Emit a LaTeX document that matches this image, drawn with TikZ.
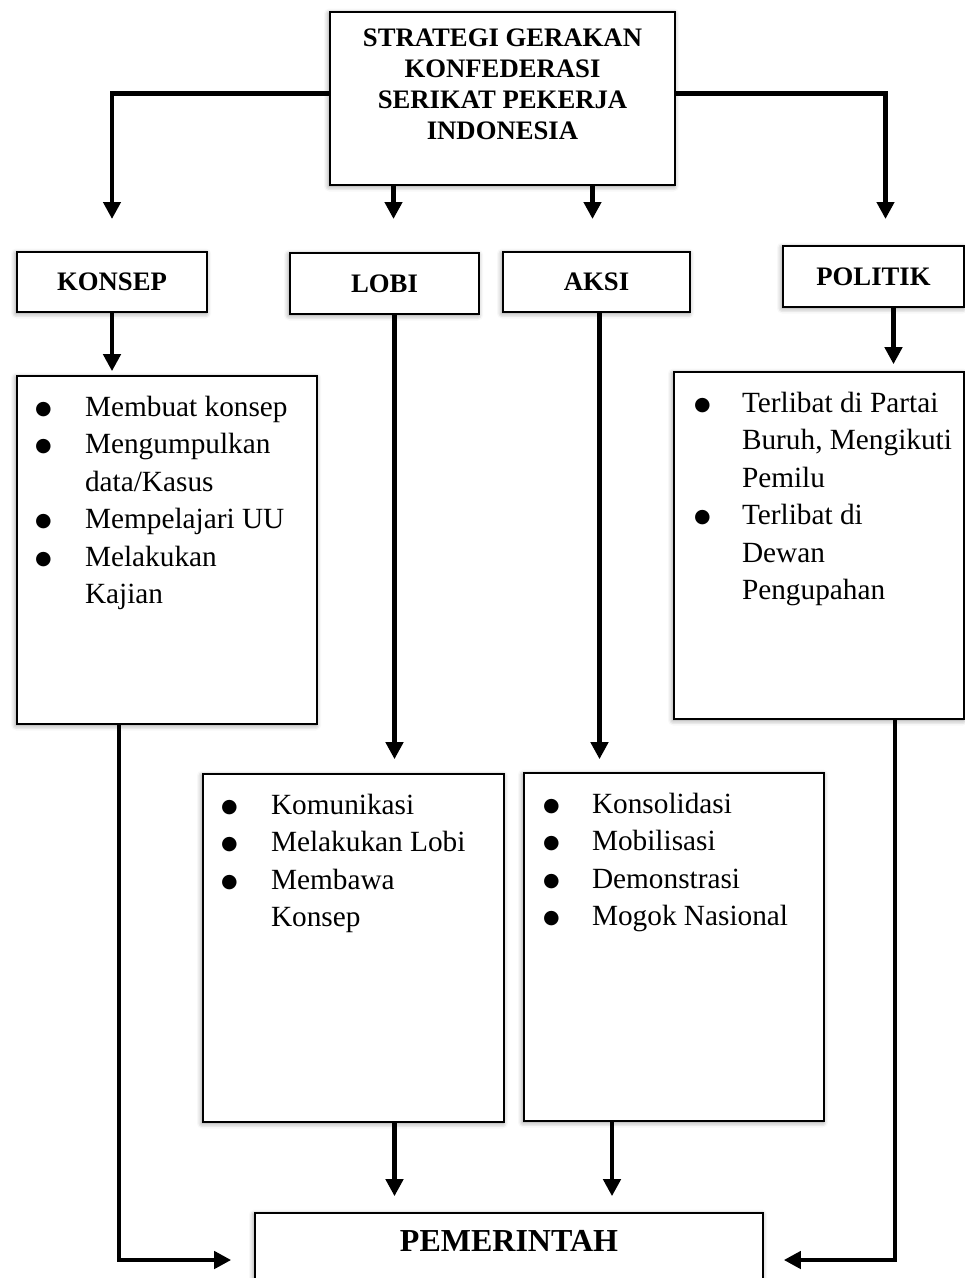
\documentclass[tikz,border=0pt]{standalone}
\usepackage{fontspec}
\setmainfont{Liberation Serif}
\newfontfamily\symfont{DejaVu Sans}
\usetikzlibrary{arrows.meta,shadows.blur}

\newcommand\boxtext[4]{\begin{minipage}[t][#1][t]{#2}\vspace*{#3}#4\end{minipage}}
\newcommand\bul{\raisebox{2pt}{\symfont\fontsize{19}{19}\selectfont ●}}
\newcommand\itm[2][18pt]{\hspace*{#1}\makebox[\dimexpr 68pt-#1\relax][l]{\bul}#2}
\newcommand\cnt[1]{\hspace*{68pt}#1}

\tikzset{
  softshadow/.style={blur shadow={shadow xshift=-1pt, shadow yshift=-1.5pt,
      shadow blur radius=5pt, shadow opacity=45}},
  headbox/.style={draw, line width=2pt, fill=white, softshadow, inner sep=0pt,
    font=\bfseries\fontsize{26.7}{31}\selectfont},
  listbox/.style={draw, line width=1.6pt, fill=white, softshadow, inner sep=0pt,
    font=\fontsize{29.3}{37.5}\selectfont},
  arr/.style={line width=4.5pt, -{Triangle[length=17pt,width=17pt]}},
}

\begin{document}
\begin{tikzpicture}[x=1pt,y=-1pt]

  \useasboundingbox (0,0) rectangle (965,1278); %% page

  %% head
  \node[headbox] (top) at (502.5,98.5)
  {\boxtext{173pt}{345pt}{17pt}{\centering STRATEGI GERAKAN\\
      KONFEDERASI\\ SERIKAT PEKERJA\\ INDONESIA}};

  %% strategies
  \node[headbox, minimum width=190pt, minimum height=60pt] (konsep) at (112,282) {KONSEP};
  \node[headbox, minimum width=189pt, minimum height=61pt] (lobi) at (384.5,283.5) {LOBI};
  \node[headbox, minimum width=187pt, minimum height=60pt] (aksi) at (596.5,282) {AKSI};
  \node[headbox, minimum width=181pt, minimum height=61pt] (politik) at (873.5,276.5) {POLITIK};

  %% lists
  \node[listbox] (klist) at (167,550)
  {\boxtext{348pt}{300pt}{20pt}{\itm{Membuat konsep}\\
      \itm{Mengumpulkan}\\ \cnt{data/Kasus}\\
      \itm{Mempelajari UU}\\
      \itm{Melakukan}\\ \cnt{Kajian}}};
  \node[listbox] (plist) at (819,545.5)
  {\boxtext{347pt}{290pt}{20pt}{\itm[20pt]{Terlibat di Partai}\\
      \cnt{Buruh, Mengikuti}\\ \cnt{Pemilu}\\
      \itm[20pt]{Terlibat di}\\ \cnt{Dewan}\\ \cnt{Pengupahan}}};
  \node[listbox] (llist) at (353.5,948)
  {\boxtext{348pt}{301pt}{20pt}{\itm{Komunikasi}\\
      \itm{Melakukan Lobi}\\
      \itm{Membawa}\\ \cnt{Konsep}}};
  \node[listbox] (alist) at (674,947)
  {\boxtext{348pt}{300pt}{20pt}{\itm[19pt]{Konsolidasi}\\
      \itm[19pt]{Mobilisasi}\\
      \itm[19pt]{Demonstrasi}\\
      \itm[19pt]{Mogok Nasional}}};

  %% target
  \node[headbox, line width=1.6pt, font=\bfseries\fontsize{32}{37}\selectfont] (pem) at (509,1260)
  {\boxtext{94pt}{508pt}{17.5pt}{\centering PEMERINTAH}};

  %% exits
  \coordinate (ltop) at ([xshift=-109pt]top.south);
  \coordinate (atop) at ([xshift=90pt]top.south);
  \coordinate (lout) at ([xshift=10pt]lobi.south);
  \coordinate (aout) at ([xshift=3pt]aksi.south);
  \coordinate (pout) at ([xshift=20pt]politik.south);
  \coordinate (kend) at ([xshift=-48pt]klist.south);
  \coordinate (pend) at ([xshift=76pt]plist.south);
  \coordinate (lend) at ([xshift=41pt]llist.south);
  \coordinate (aend) at ([xshift=-62pt]alist.south);

  \draw[arr, shorten >=32pt] ([yshift=5pt]top.west) -| (konsep.north);
  \draw[arr, shorten >=26pt] ([yshift=5pt]top.east) -| ([xshift=12pt]politik.north);
  \draw[arr, shorten >=33pt] (ltop) -- (ltop |- lobi.north);
  \draw[arr, shorten >=32pt] (atop) -- (atop |- aksi.north);

  \draw[arr, shorten >=4pt] (konsep.south) -- (konsep.south |- klist.north);
  \draw[arr, shorten >=14pt] (lout) -- (lout |- llist.north);
  \draw[arr, shorten >=13pt] (aout) -- (aout |- alist.north);
  \draw[arr, shorten >=7pt] (pout) -- (pout |- plist.north);

  \draw[arr, shorten >=23pt] (kend) |- (pem.west);
  \draw[arr, shorten >=20pt] (pend) |- (pem.east);
  \draw[arr, shorten >=16pt] (lend) -- (lend |- pem.north);
  \draw[arr, shorten >=16pt] (aend) -- (aend |- pem.north);

\end{tikzpicture}
\end{document}
